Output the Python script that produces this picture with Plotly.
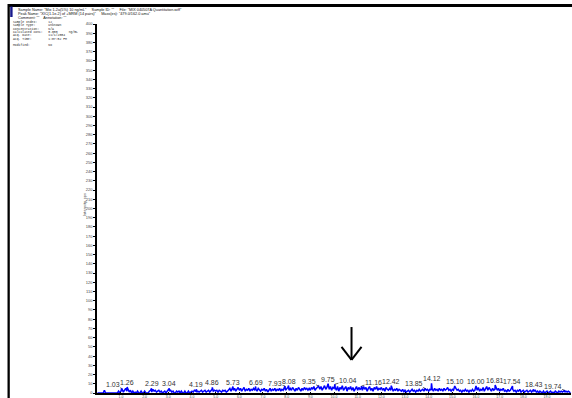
import plotly.graph_objects as go

W, H = 572, 398

# XIC trace sampled every 0.05 min, intensity in cps (one row per minute)
grid_step = 0.05
grid_intensity = [
    0, 0, 0, 0, 0, 0, 3, 0, 0, 0, 0, 0, 0, 0, 0, 0, 0, 0, 2, 0,   # 0
    2, 4, 1, 3, 5, 2, 4, 1, 3, 0, 2, 0, 1, 0, 2, 0, 0, 2, 0, 0,   # 1
    2, 0, 0, 0, 2, 3, 1, 4, 2, 3, 1, 2, 3, 1, 2, 0, 1, 2, 0, 2,   # 2
    3, 2, 3, 1, 2, 0, 0, 2, 1, 2, 0, 2, 0, 0, 2, 0, 0, 2, 0, 1,   # 3
    2, 1, 3, 2, 1, 2, 1, 2, 3, 1, 2, 3, 1, 2, 3, 1, 3, 4, 2, 3,   # 4
    2, 3, 1, 3, 2, 1, 3, 2, 3, 1, 2, 3, 5, 2, 6, 3, 5, 2, 4, 6,   # 5
    3, 5, 2, 4, 6, 2, 4, 3, 5, 2, 4, 3, 5, 3, 4, 2, 5, 3, 2, 4,   # 6
    3, 5, 2, 4, 1, 3, 5, 2, 4, 3, 5, 2, 4, 3, 5, 2, 4, 3, 5, 3,   # 7
    4, 6, 3, 5, 3, 6, 4, 2, 5, 3, 6, 4, 2, 5, 3, 6, 4, 5, 3, 5,   # 8
    3, 6, 4, 7, 3, 5, 6, 7, 4, 7, 3, 6, 8, 4, 6, 9, 4, 7, 3, 6,   # 9
    5, 6, 3, 7, 2, 6, 4, 8, 3, 5, 7, 2, 6, 4, 7, 3, 6, 2, 5, 7,   # 10
    3, 6, 4, 5, 3, 7, 4, 6, 2, 5, 7, 3, 5, 2, 6, 4, 7, 3, 5, 4,   # 11
    6, 3, 5, 2, 6, 4, 3, 5, 3, 6, 2, 4, 3, 5, 2, 4, 3, 2, 4, 1,   # 12
    3, 1, 2, 3, 1, 2, 4, 2, 3, 1, 3, 2, 4, 2, 3, 4, 2, 4, 3, 4,   # 13
    2, 4, 3, 4, 2, 5, 3, 4, 2, 5, 3, 4, 2, 5, 3, 4, 6, 3, 4, 2,   # 14
    4, 3, 5, 5, 3, 4, 2, 3, 1, 3, 2, 4, 2, 3, 1, 3, 2, 4, 2, 3,   # 15
    6, 3, 6, 2, 4, 3, 6, 2, 5, 7, 3, 6, 4, 2, 5, 3, 4, 6, 3, 5,   # 16
    2, 4, 3, 5, 2, 3, 1, 4, 2, 3, 5, 4, 2, 3, 1, 3, 2, 4, 1, 2,   # 17
    3, 1, 2, 3, 1, 2, 3, 1, 3, 2, 3, 1, 2, 0, 2, 1, 0, 2, 0, 1,   # 18
    2, 0, 1, 2, 0, 1, 0, 2, 1, 0, 2, 1, 2, 1, 2, 1, 2, 1, 2, 1,   # 19
    0,                                                             # 20
]

# labelled apexes: retention time (min) and apex intensity (cps)
peak_times = [1.03, 1.26, 2.29, 3.04, 4.19, 4.86, 5.73, 6.69, 7.93, 8.08,
              9.35, 9.75, 10.04, 11.16, 12.42, 13.85, 14.12, 15.10, 16.00,
              16.81, 17.54, 18.43, 19.74]
peak_heights = [5, 6.5, 5, 5, 4, 6, 7, 7, 7.5, 8,
                7.5, 10, 9.5, 7.5, 8, 5, 10.5, 7.5, 7.5,
                8.5, 7.5, 4, 3]
peak_labels = [f"{t:.2f}" for t in peak_times]

x_ticks = list(range(1, 20))
x_tick_text = [f"{v:.1f}" for v in x_ticks]
y_ticks = list(range(0, 401, 10))

header_lines = [
    'Sample Name: "Mix 1-2a(5%) 10 ng/mL"     Sample ID: ""     File: "MIX 040507A Quantitation.wiff"',
    'Peak Name: "XIC(1.1e-2) of +MRM (14 pairs)"     Mass(es): "479.0/162.0 amu"',
    'Comment: ""    Annotation: ""',
]
info_lines = [
    "Sample Index:      12",
    "Sample Type:       Unknown",
    "Concentration:     N/A",
    "Calculated Conc:   0.000      ng/mL",
    "Acq. Date:         11/1/2004",
    "Acq. Time:         1:07:52 PM",
    "",
    "Modified:          No",
]

# merge the sampled trace with the apex points
times = [round(i * grid_step, 2) for i in range(len(grid_intensity))]
points = dict(zip(times, grid_intensity))
points.update(zip(peak_times, peak_heights))
xs = sorted(points)
ys = [points[t] for t in xs]

# pixel layout of the plotting area
PX_LEFT, PX_RIGHT = 97.3, 570.7
PX_TOP, PX_BOTTOM = 24.0, 393.0


def px_x(p):
    return p / W


def px_y(p):
    return 1 - p / H


fig = go.Figure()
fig.add_trace(go.Scatter(
    x=xs, y=ys, mode="lines",
    line=dict(color="#0000ff", width=1.5),
    hoverinfo="skip", showlegend=False,
))

# label offsets (px) for labels that use a leader line
leader_offsets = {
    "1.03": (-9, -4),
    "7.93": (-10, -3),
    "9.35": (-10, -5),
    "10.04": (13, -4),
    "11.16": (12, -4),
    "13.85": (-11, -5),
    "19.74": (-12, -4),
}
label_font = dict(family="Liberation Sans, Arial, sans-serif", size=7, color="#333333")
annotations = []
for t, h, lab in zip(peak_times, peak_heights, peak_labels):
    if lab in leader_offsets:
        ax, ay = leader_offsets[lab]
        annotations.append(dict(
            x=t, y=h, xref="x", yref="y", text=lab, font=label_font,
            showarrow=True, arrowhead=0, arrowwidth=0.7, arrowcolor="#222222",
            ax=ax, ay=ay, standoff=0, borderpad=0,
        ))
    else:
        annotations.append(dict(
            x=t, y=h, xref="x", yref="y", text=lab, font=label_font,
            showarrow=False, yanchor="bottom", xanchor="center", borderpad=0,
        ))

# header block
header_font = dict(family="Liberation Sans, Arial, sans-serif", size=3.8, color="#111111")
header_y = [10.2, 14.4, 17.8]
for line, yy in zip(header_lines, header_y):
    annotations.append(dict(
        x=px_x(15.5), y=px_y(yy), xref="paper", yref="paper", text=line,
        showarrow=False, xanchor="left", yanchor="middle", font=header_font,
    ))
info_font = dict(family="Liberation Mono, DejaVu Sans Mono, monospace", size=3.1, color="#222222")
info_y0, info_dy = 21.9, 3.35
for i, line in enumerate(info_lines):
    if not line:
        continue
    annotations.append(dict(
        x=px_x(10.5), y=px_y(info_y0 + i * info_dy), xref="paper", yref="paper",
        text=line.replace(" ", "&nbsp;"),
        showarrow=False, xanchor="left", yanchor="middle", font=info_font,
    ))

# y-axis title
annotations.append(dict(
    x=px_x(80.5), y=px_y(205), xref="paper", yref="paper",
    text="Intensity, cps", textangle=-90, showarrow=False,
    font=dict(family="Liberation Sans, Arial, sans-serif", size=4, color="#444444"),
))

# downward marker arrow
ARROW_X, ARROW_TOP, ARROW_TIP = 10.74, 71.5, 35.8
arrow_line = dict(color="black", width=2)
shapes = [
    dict(type="line", xref="x", yref="y", x0=ARROW_X, x1=ARROW_X,
         y0=ARROW_TOP, y1=ARROW_TIP, line=arrow_line),
    dict(type="line", xref="x", yref="y", xsizemode="pixel", ysizemode="pixel",
         xanchor=ARROW_X, yanchor=ARROW_TIP, x0=-10, x1=0, y0=13, y1=0, line=arrow_line),
    dict(type="line", xref="x", yref="y", xsizemode="pixel", ysizemode="pixel",
         xanchor=ARROW_X, yanchor=ARROW_TIP, x0=10, x1=0, y0=13, y1=0, line=arrow_line),
    # page frame
    dict(type="rect", xref="paper", yref="paper", x0=px_x(8), x1=1.0,
         y0=px_y(7), y1=px_y(4), fillcolor="black", line=dict(width=0)),
    dict(type="rect", xref="paper", yref="paper", x0=px_x(7.5), x1=px_x(9.8),
         y0=0, y1=px_y(4), fillcolor="black", line=dict(width=0)),
    dict(type="rect", xref="paper", yref="paper", x0=px_x(10.2), x1=px_x(12.6),
         y0=px_y(17), y1=px_y(6.5), fillcolor="#1a1a8c", line=dict(width=0)),
]

tick_font = dict(family="Liberation Sans, Arial, sans-serif", size=4, color="#444444")
fig.update_layout(
    width=W, height=H,
    margin=dict(l=0, r=0, t=0, b=0),
    paper_bgcolor="white", plot_bgcolor="white",
    showlegend=False,
    annotations=annotations,
    shapes=shapes,
    xaxis=dict(
        domain=[px_x(PX_LEFT), px_x(PX_RIGHT)], range=[0, 20],
        tickmode="array", tickvals=x_ticks, ticktext=x_tick_text,
        ticks="inside", ticklen=1.5, tickwidth=0.8, tickcolor="black",
        tickfont=dict(family="Liberation Sans, Arial, sans-serif", size=3.5, color="#444444"),
        ticklabelstandoff=-1,
        showline=True, linecolor="black", linewidth=2,
        showgrid=False, zeroline=False, automargin=False, fixedrange=True,
    ),
    yaxis=dict(
        domain=[px_y(PX_BOTTOM), px_y(PX_TOP)], range=[0, 400],
        tickmode="array", tickvals=y_ticks, ticktext=[str(v) for v in y_ticks],
        ticks="outside", ticklen=2, tickwidth=0.8, tickcolor="black",
        tickfont=tick_font, showline=True, linecolor="black", linewidth=2,
        showgrid=False, zeroline=False, automargin=False, fixedrange=True,
    ),
)

fig.write_html("out.html", config={"displayModeBar": False})
